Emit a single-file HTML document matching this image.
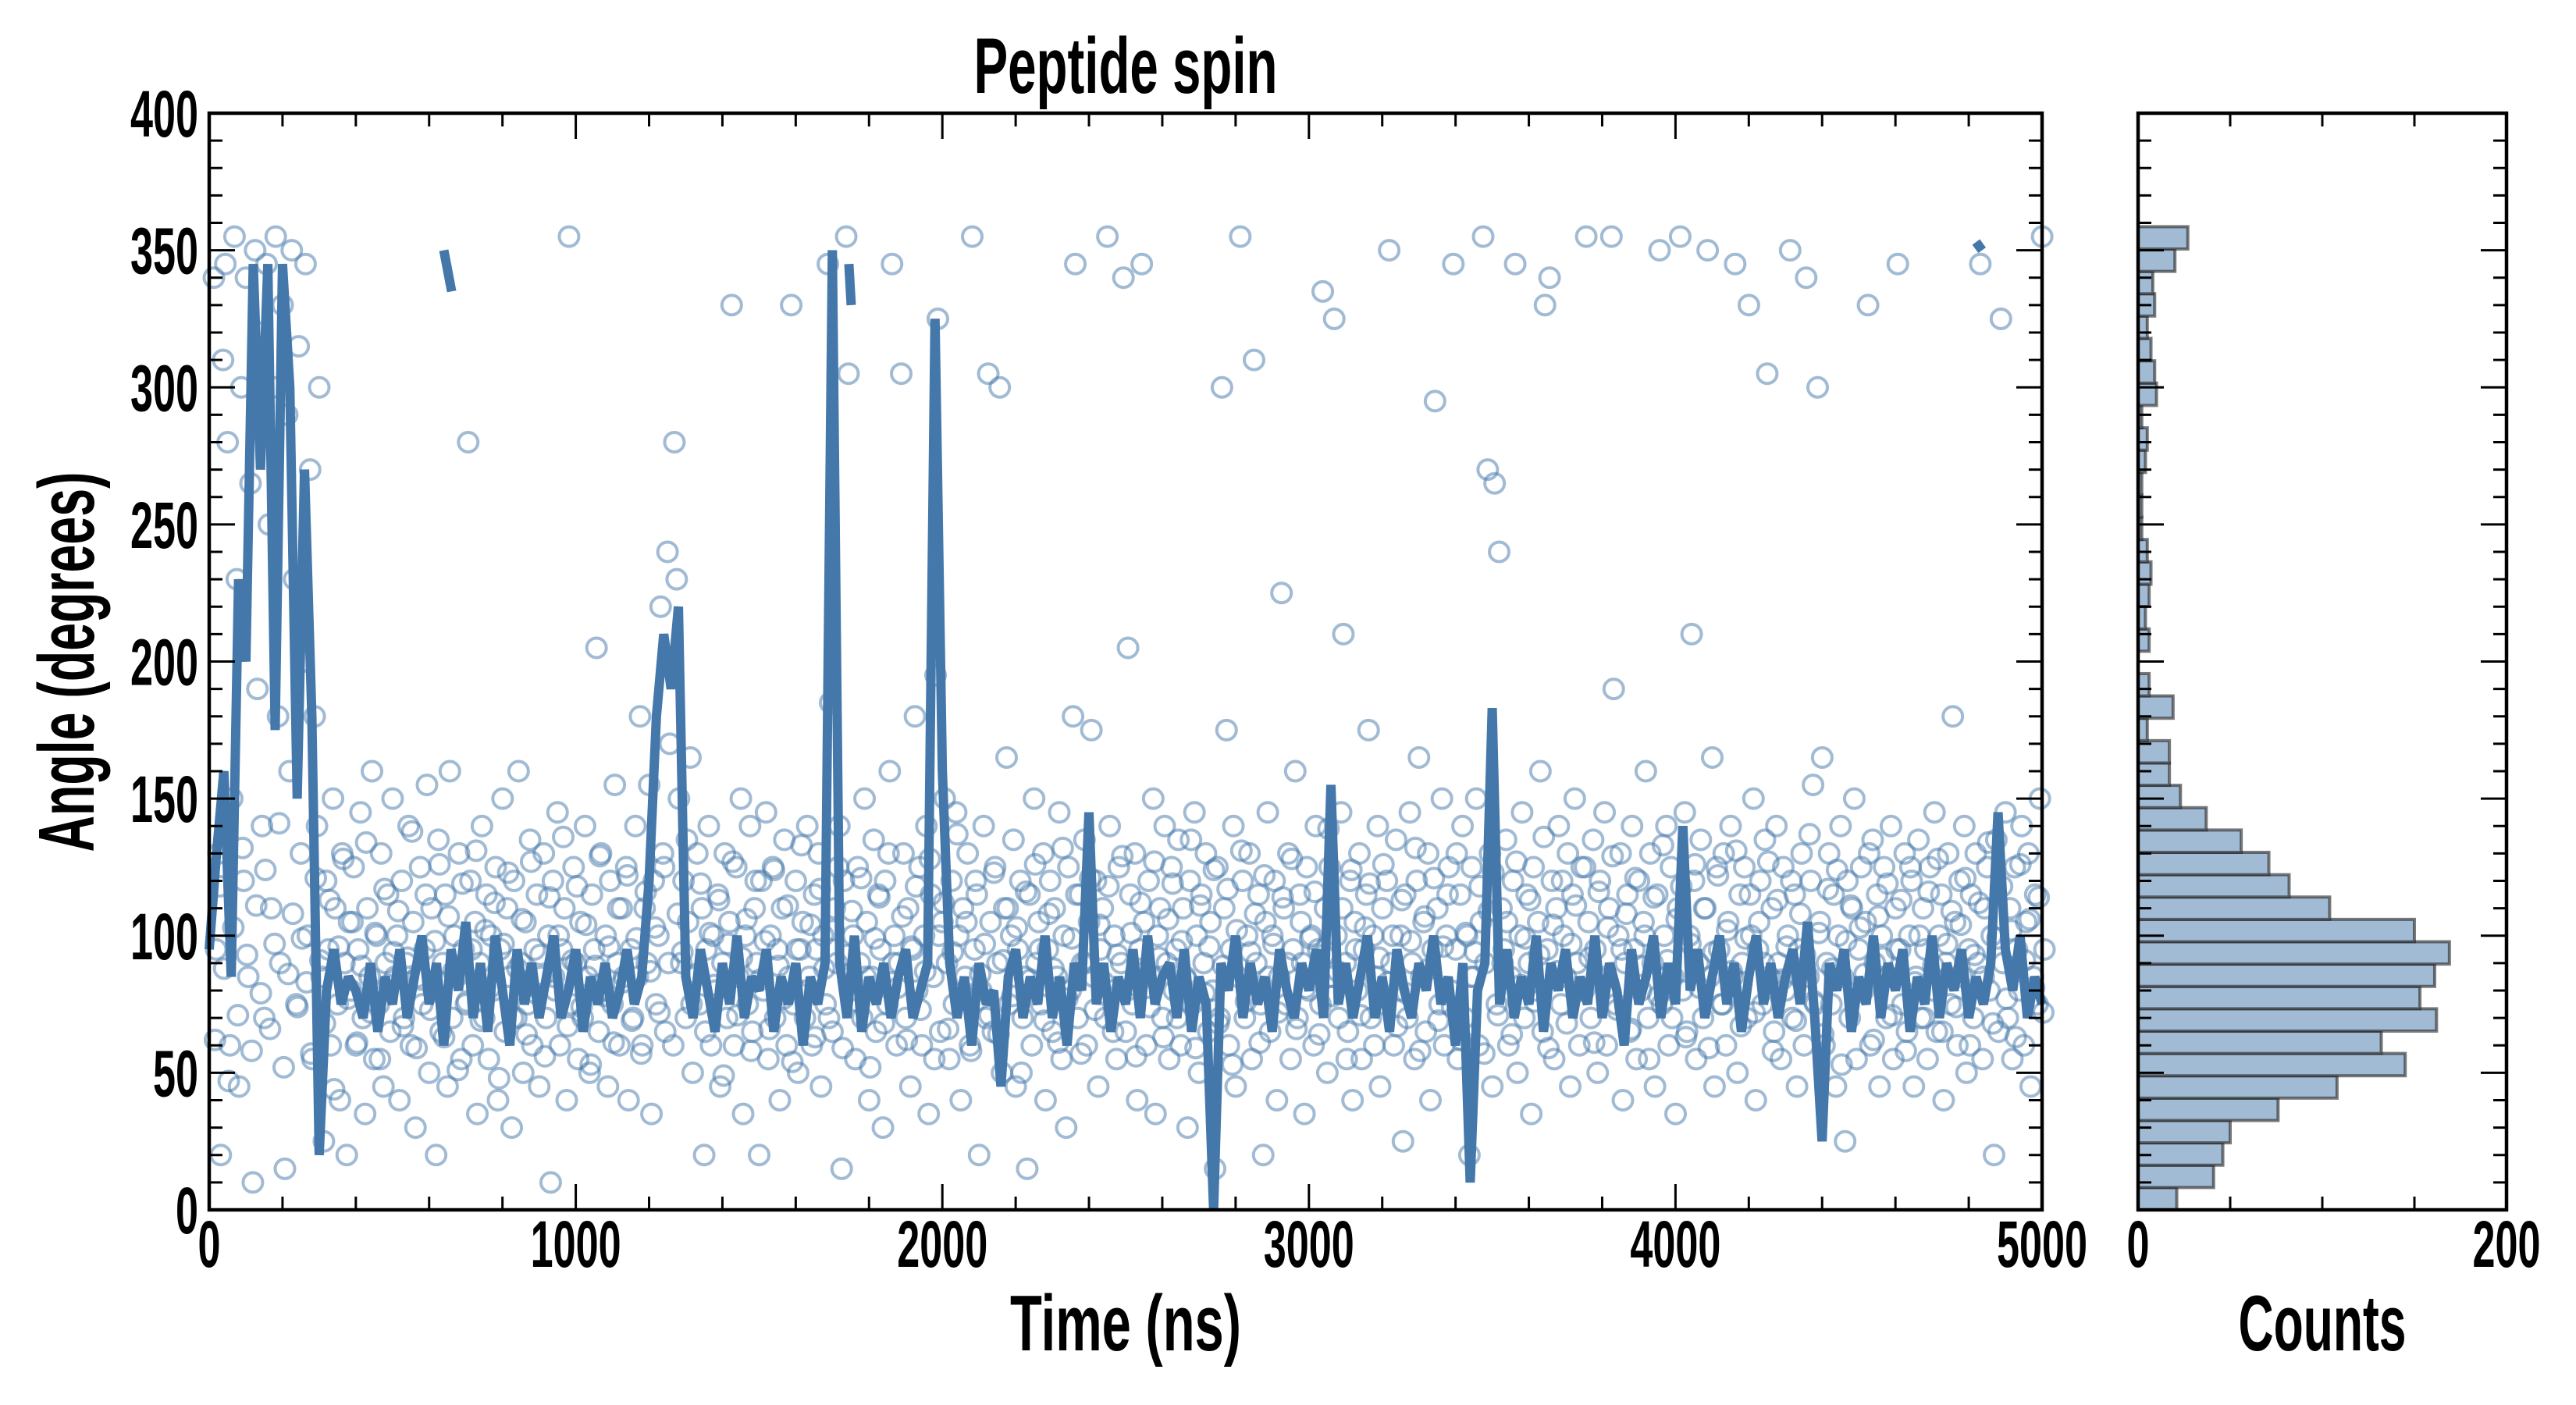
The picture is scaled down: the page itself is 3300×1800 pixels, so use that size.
<!DOCTYPE html>
<html><head><meta charset="utf-8"><title>Peptide spin</title>
<style>
html,body{margin:0;padding:0;background:#fff;}
svg{display:block;}
text{font-family:"Liberation Sans Narrow","Liberation Sans",sans-serif;font-weight:bold;fill:#000;}
</style></head>
<body>
<svg id="chart" xmlns="http://www.w3.org/2000/svg" width="3300" height="1800" viewBox="0 0 3300 1800">
<rect x="0" y="0" width="3300" height="1800" fill="#fff"/>
<g id="scatterG"></g>
<g id="lineG"></g>
<g id="histG"></g>
<g id="axesG"></g>
<text x="1442" y="119" text-anchor="middle" font-size="101" textLength="389" lengthAdjust="spacingAndGlyphs">Peptide spin</text>
<text x="1442" y="1730" text-anchor="middle" font-size="101" textLength="296" lengthAdjust="spacingAndGlyphs">Time (ns)</text>
<text x="2975" y="1730" text-anchor="middle" font-size="101" textLength="215" lengthAdjust="spacingAndGlyphs">Counts</text>
<text transform="translate(120,848) rotate(-90)" x="0" y="0" text-anchor="middle" font-size="101" textLength="487" lengthAdjust="spacingAndGlyphs">Angle (degrees)</text>
</svg>
<script>
// ---- data ----
const lineStepNs = 20;
const lineValues = [
95,130,160,85,230,200,345,270,345,175,345,300,150,270,180,20,80,95,75,85,
80,70,90,65,85,75,95,70,85,100,75,90,60,95,80,105,70,90,65,100,
80,60,95,75,90,70,85,100,70,80,95,65,85,75,90,70,80,95,75,85,
120,180,210,190,220,85,70,95,80,65,90,75,100,70,85,80,95,65,85,75,
90,60,85,75,90,350,90,70,100,65,85,75,90,70,85,95,70,80,90,325,
160,90,70,85,60,90,75,80,45,85,95,70,85,75,100,70,85,60,90,80,
145,75,90,65,85,75,95,70,100,75,85,90,70,95,65,85,75,0,90,80,
100,70,90,75,85,65,95,80,70,90,80,95,70,155,75,90,70,85,100,70,
85,65,95,80,70,90,80,100,75,85,60,90,10,80,90,183,75,95,70,85,
75,100,65,90,80,95,70,85,75,100,70,90,80,60,95,75,85,100,70,90,
75,140,80,95,70,85,100,75,90,65,85,100,75,90,70,85,95,75,105,70,
25,90,80,95,65,85,75,100,70,90,80,95,65,85,75,100,70,90,80,95,
70,85,75,90,145,95,80,100,70,85,75
];
const segTimes = [[640,655],[1745,1745],[4820,4830]];
const segValues = [[350,335],[345,330],[353,350]];
const scatterStepNs = 6.25;
const scatterValues = [
340,95,130,20,310,345,280,60,150,355,230,45,300,120,340,85,265,10,350,190,
320,140,70,345,250,110,300,355,180,90,330,15,290,160,350,230,75,315,130,200,
345,100,270,55,180,140,300,85,25,120,95,60,150,110,75,40,130,90,20,105,
80,125,60,95,145,70,35,110,85,160,55,100,75,130,45,90,115,65,150,85,
100,40,120,70,90,140,60,105,30,85,125,75,95,155,50,110,80,20,135,65,
90,115,45,160,70,100,85,130,55,95,75,280,120,60,105,35,90,140,70,115,
55,100,80,125,40,95,150,65,110,85,30,120,70,160,90,50,105,75,135,60,
95,115,45,85,130,70,100,10,120,80,145,60,95,110,40,355,75,125,90,55,
105,70,140,85,50,115,95,205,65,130,80,100,45,120,75,155,90,60,110,85,
125,40,95,70,140,85,180,60,110,90,155,35,120,75,100,220,130,65,240,170,
200,280,230,150,90,120,70,105,165,50,85,130,75,110,20,95,140,60,100,80,
115,45,90,130,70,105,330,60,125,85,150,35,100,75,140,65,110,90,20,120,
80,145,55,100,125,70,95,40,110,135,60,85,330,75,120,50,95,105,70,140,
85,60,115,95,130,45,100,75,345,185,65,110,90,140,15,120,355,305,80,100,
55,125,90,70,150,105,40,85,135,65,115,95,30,120,75,160,345,100,60,90,
305,130,70,110,45,95,180,80,125,60,100,140,35,115,85,195,325,65,105,150,
90,55,120,75,145,100,40,110,85,130,60,355,95,115,20,80,140,70,305,105,
65,125,90,300,50,110,165,75,100,135,45,95,120,70,85,15,115,60,150,90,
105,75,130,40,95,120,65,110,85,145,55,100,30,125,80,180,345,70,115,90,
135,60,105,175,85,120,45,95,110,70,355,140,80,100,55,125,90,340,65,205,
115,75,130,40,95,345,105,60,120,85,150,35,100,110,70,140,90,55,125,80,
95,135,60,110,85,30,120,75,145,100,50,115,90,130,65,105,80,15,125,70,
300,110,175,60,95,140,45,85,355,120,70,100,130,55,310,90,115,75,20,105,
145,65,100,120,40,85,225,110,75,130,55,95,160,70,115,90,35,125,80,100,
60,140,95,75,335,110,50,125,85,325,100,70,145,210,90,65,120,40,105,80,
130,55,95,115,175,70,100,85,140,45,110,75,120,350,90,60,135,80,100,25,
115,70,145,90,55,120,165,85,105,65,130,40,95,295,110,75,150,60,100,125,
80,345,95,55,115,140,70,100,20,125,85,150,60,105,355,90,270,130,45,265,
75,240,110,95,135,60,85,120,345,50,100,145,70,115,90,35,125,80,105,160,
65,330,95,340,120,55,110,140,75,100,85,130,45,115,150,90,60,125,80,355,
105,70,135,95,50,120,85,145,60,110,355,190,75,100,130,40,90,115,65,140,
95,55,120,80,105,160,70,130,90,45,115,350,75,100,140,60,125,85,35,110,
355,80,145,65,100,210,120,55,90,135,70,110,350,85,165,45,125,95,75,130,
60,105,140,85,345,50,115,90,125,70,330,100,150,40,95,120,75,135,305,85,
110,65,140,90,55,125,80,100,350,70,115,45,95,130,60,340,85,120,155,75,
300,105,165,60,90,130,75,115,45,100,140,85,25,120,70,110,150,55,95,125,
80,105,330,60,135,90,115,45,100,125,70,85,140,55,110,345,95,75,130,65,
100,120,45,85,135,70,110,95,55,125,80,145,65,100,115,40,90,130,75,180,
105,60,120,85,140,50,95,115,70,130,90,345,55,110,125,80,100,20,135,65,
325,90,145,70,110,55,125,95,80,140,60,105,130,45,85,115,75,150,355,95
];
const scatterStepNsB = 12.5;
const scatterValuesB = [
62,118,88,47,103,71,132,93,58,111,79,124,66,97,141,52,86,108,74,99,
83,57,121,91,68,113,44,96,128,77,105,61,89,134,72,101,55,117,82,94,
109,67,92,138,59,84,115,73,98,126,63,107,87,51,119,76,95,131,69,102,
81,112,48,97,123,70,88,106,64,127,79,93,56,114,85,100,136,67,91,118,
74,104,53,89,129,78,96,61,110,83,122,69,99,57,116,87,103,72,125,90,
60,108,94,135,75,86,119,65,101,82,113,49,97,127,71,92,106,58,120,84,
98,66,124,89,77,111,54,95,133,80,104,63,117,88,70,102,125,59,93,109,
76,121,85,52,99,114,68,130,90,81,107,62,96,118,73,87,128,55,100,112,
66,94,137,79,105,58,120,86,97,71,123,64,91,110,78,103,50,116,84,126,
95,69,108,88,61,132,77,99,115,57,90,121,73,104,83,118,65,93,129,80,
101,56,112,87,74,127,92,63,106,119,70,98,84,135,59,111,79,96,124,68,
89,117,53,102,131,76,94,108,61,122,85,97,72,114,90,128,66,105,81,99,
116,64,93,139,78,87,110,55,124,95,71,103,119,60,92,126,83,100,67,113,
79,98,132,58,107,88,121,69,96,115,74,130,62,101,85,94,118,57,109,123,
71,90,105,64,127,82,99,113,76,93,136,59,104,87,120,68,97,111,80,125,
92,61,116,84,103,129,73,95,108,66,121,89,100,55,114,78,133,91,70,106,
118,63,97,126,81,110,59,94,122,75,102,87,131,67,99,115,72,105,90,127,
58,113,84,96,120,69,108,93,137,76,101,64,117,88,124,53,98,111,79,103,
86,130,62,107,92,119,71,95,113,58,125,83,100,70,116,89,128,65,97,109,
74,104,121,60,93,112,85,134,68,99,118,77,102,63,126,91,106,81,114,72
];
const histBinWidth = 8.15;
const histCounts = [21,41,46,50,76,108,145,132,162,153,161,169,150,104,82,71,56,37,23,17,17,5,19,6,0,6,4,6,7,5,2,2,2,4,5,2,10,9,7,5,9,8,20,27];
const xTickLabels = ["0","1000","2000","3000","4000","5000"];
const yTickLabels = ["0","50","100","150","200","250","300","350","400"];
const hTickLabels = ["0","200"];

// ---- layout ----
const X0=268, X1=2616, Y0=145, Y1=1550, HX0=2739, HX1=3211;
const xScale = t => X0 + (t/5000)*(X1-X0);
const yScale = v => Y1 - (v/400)*(Y1-Y0);
const hScale = c => HX0 + (c/200)*(HX1-HX0);
const NS="http://www.w3.org/2000/svg";
function mk(tag, parent){const e=document.createElementNS(NS,tag);parent.appendChild(e);return e;}
const COL="#4477aa";

// scatter
const sg=document.getElementById('scatterG');
function drawPoint(t,v){
  const c=mk('circle',sg);
  c.setAttribute('cx',xScale(t)+6);
  c.setAttribute('cy',yScale(v));
  c.setAttribute('r',12.5);
  c.setAttribute('fill','none');
  c.setAttribute('stroke',COL);
  c.setAttribute('stroke-opacity','0.5');
  c.setAttribute('stroke-width','4');
  
  
}
scatterValues.forEach((v,i)=>drawPoint(i*scatterStepNs,v));
scatterValuesB.forEach((v,i)=>drawPoint(i*scatterStepNsB+3,v));

// line
const lg=document.getElementById('lineG');
let d='';
lineValues.forEach((v,i)=>{
  if(v===null) return;
  const t=Math.min(i*lineStepNs,5000);
  d+=(d===''?'M':'L')+xScale(t).toFixed(1)+','+yScale(v).toFixed(1);
});
const p=mk('path',lg);
p.setAttribute('d',d);
p.setAttribute('fill','none');
p.setAttribute('stroke',COL);
p.setAttribute('stroke-width','12');
p.setAttribute('stroke-linejoin','miter');
p.setAttribute('stroke-miterlimit','2');


segTimes.forEach((ts,k)=>{
  const s=mk('path',lg);
  const vs=segValues[k];
  s.setAttribute('d','M'+xScale(ts[0])+','+yScale(vs[0])+'L'+(xScale(ts[1])+3)+','+yScale(vs[1]));
  s.setAttribute('fill','none');
  s.setAttribute('stroke',COL);
  s.setAttribute('stroke-width','12');
  
  
});

// histogram
const hg=document.getElementById('histG');
histCounts.forEach((c,i)=>{
  if(c<=0) return;
  const r=mk('rect',hg);
  const yTop=yScale((i+1)*histBinWidth), yBot=yScale(i*histBinWidth);
  r.setAttribute('x',HX0);
  r.setAttribute('y',yTop);
  r.setAttribute('width',hScale(c)-HX0);
  r.setAttribute('height',yBot-yTop);
  r.setAttribute('fill','#a2bbd4');
  r.setAttribute('stroke','#222');
  r.setAttribute('stroke-opacity','0.6');
  r.setAttribute('stroke-width','4');
  
  
});

// axes
const ag=document.getElementById('axesG');
function line(x1,y1,x2,y2,w,name){
  const l=mk('line',ag);
  l.setAttribute('x1',x1);l.setAttribute('y1',y1);l.setAttribute('x2',x2);l.setAttribute('y2',y2);
  l.setAttribute('stroke','#000');l.setAttribute('stroke-width',w);
  
  
}
function label(x,y,txt,anchor,name){
  const t=mk('text',ag);
  t.setAttribute('x',x);t.setAttribute('y',y);
  t.setAttribute('text-anchor',anchor);
  t.setAttribute('font-size','84');
  t.setAttribute('textLength',txt.length*29);
  t.setAttribute('lengthAdjust','spacingAndGlyphs');
  t.textContent=txt;
  
  
}
[[X0,X1],[HX0,HX1]].forEach(([a,b],k)=>{
  const r=mk('rect',ag);
  r.setAttribute('x',a);r.setAttribute('y',Y0);r.setAttribute('width',b-a);r.setAttribute('height',Y1-Y0);
  r.setAttribute('fill','none');r.setAttribute('stroke','#000');r.setAttribute('stroke-width','4.5');
  
  
});
for(let v=0;v<=400;v+=10){
  const y=yScale(v), maj=(v%50===0), L=maj?33:17;
  [[X0,1],[X1,-1],[HX0,1],[HX1,-1]].forEach(([x,dir])=>line(x,y,x+dir*L,y,3,'y-tick'));
}
yTickLabels.forEach(s=>label(X0-14,yScale(+s)+30,s,'end','y-tick-label'));
for(let t=0;t<=5000;t+=200){
  const x=xScale(t), maj=(t%1000===0), L=maj?33:17;
  line(x,Y1,x,Y1-L,3,'x-tick');
  line(x,Y0,x,Y0+L,3,'x-tick');
}
xTickLabels.forEach(s=>label(xScale(+s),1623,s,'middle','x-tick-label'));
for(let c=0;c<=200;c+=50){
  const x=hScale(c), maj=(c%200===0), L=maj?33:17;
  line(x,Y1,x,Y1-L,3,'histogram-x-tick');
  line(x,Y0,x,Y0+L,3,'histogram-x-tick');
}
hTickLabels.forEach(s=>label(hScale(+s),1623,s,'middle','histogram-tick-label'));
</script>
</body></html>
